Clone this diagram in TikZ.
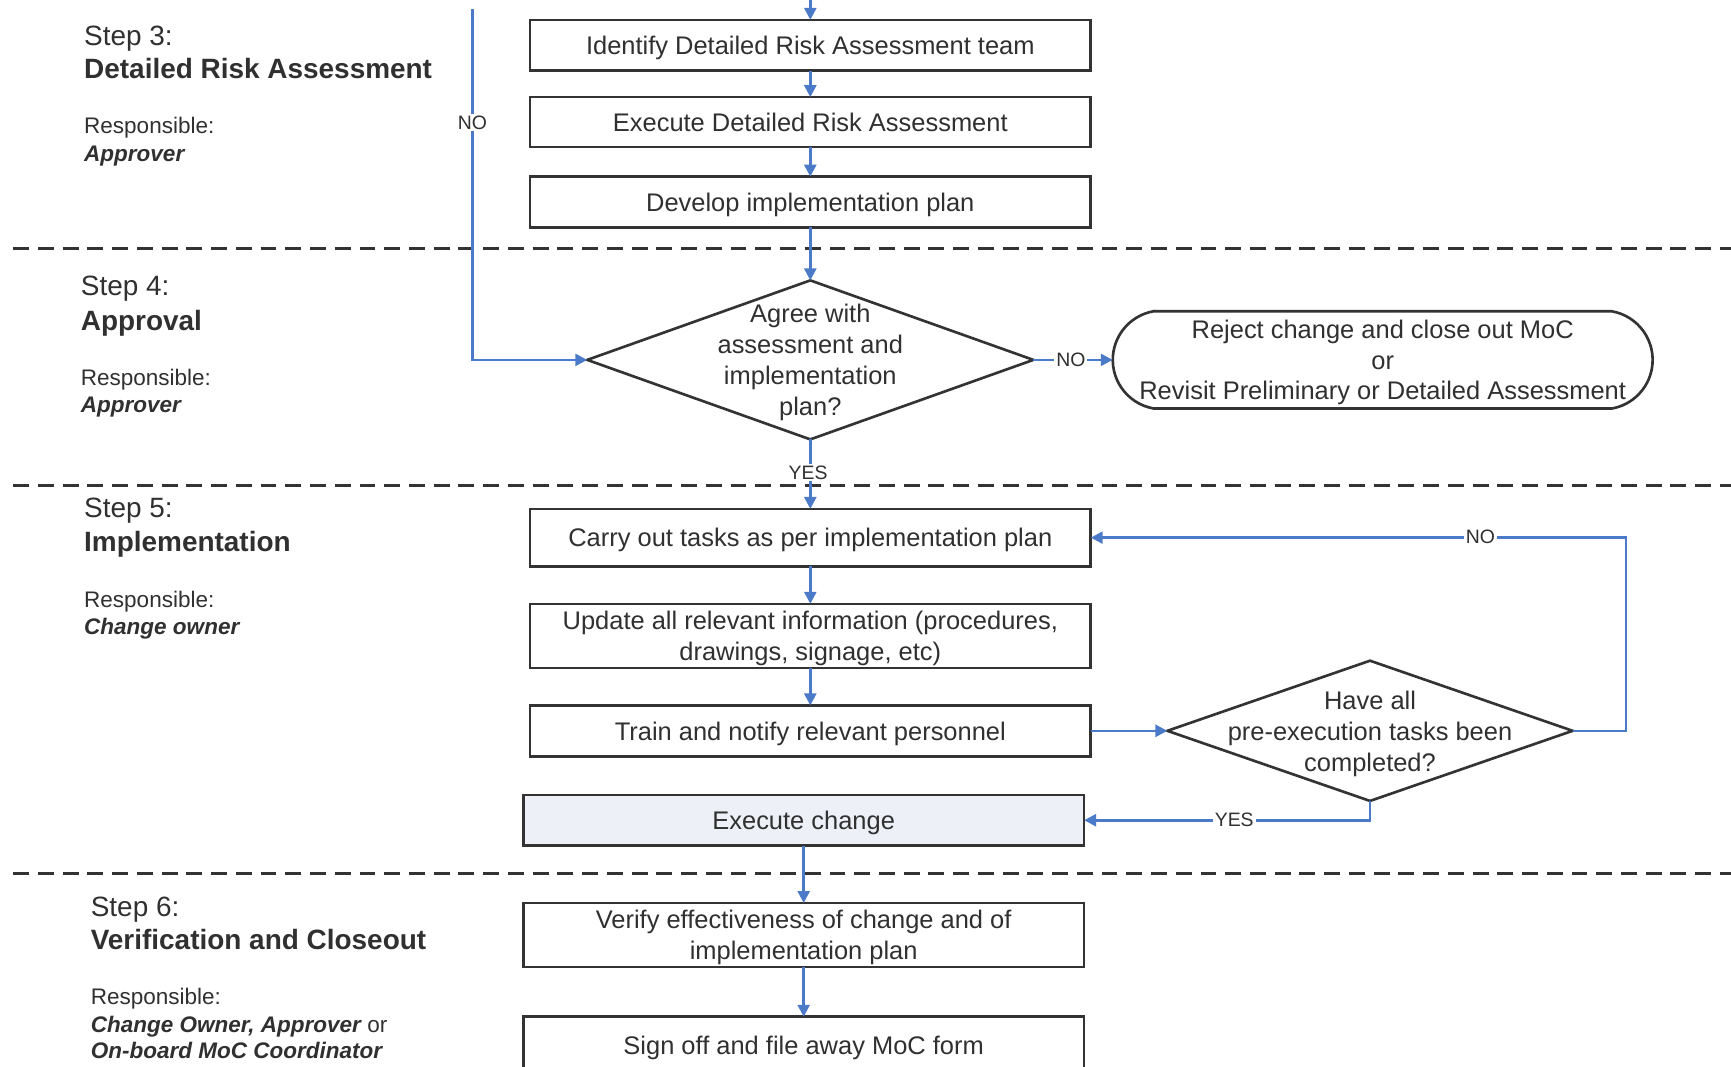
\documentclass[tikz,border=0pt]{standalone}
\usepackage{fontspec}
\setmainfont{Liberation Sans}
\usetikzlibrary{arrows.meta,shapes.geometric,calc}
\definecolor{flowblue}{HTML}{4A7AC8}
\definecolor{edge}{HTML}{333333}
\definecolor{ink}{HTML}{303030}
\definecolor{execfill}{HTML}{EDF1F7}

\begin{document}
\begin{tikzpicture}[x=0.025cm,y=-0.025cm,
  box/.style={draw=edge, line width=1.7pt, minimum width=12.7cm, inner sep=0pt, outer sep=0pt,
    align=center, text=ink, text depth=0pt, font=\fontsize{16.4}{19.9}\selectfont},
  decision/.style={diamond, draw=edge, line width=1.7pt, inner sep=0pt, outer sep=0pt},
  dtext/.style={align=center, inner sep=0pt, text=ink, text depth=0pt, font=\fontsize{16.4}{19.9}\selectfont},
  flow/.style={draw=flowblue, line width=1.7pt, -{Triangle[length=0.27cm,width=0.27cm]}},
  tag/.style={fill=white, inner sep=1.2pt, text=ink, font=\fontsize{12.5}{14}\selectfont},
  divider/.style={draw=edge, line width=1.8pt, dash pattern=on 0.36cm off 0.2cm},
  steplabel/.style={anchor=base west, inner sep=0pt, text=ink, font=\fontsize{18}{20}\selectfont},
  steptitle/.style={anchor=base west, inner sep=0pt, text=ink, font=\fontsize{18}{20}\selectfont\bfseries},
  resp/.style={anchor=base west, inner sep=0pt, text=ink, font=\fontsize{14.5}{16}\selectfont},
  respname/.style={anchor=base west, inner sep=0pt, text=ink, font=\fontsize{14.5}{16}\selectfont\bfseries\itshape}
]
\useasboundingbox (0,0) rectangle (1568,966);
\clip (0,0) rectangle (1568,966);

% section dividers
\draw[divider] (12,225) -- (1568,225);
\draw[divider] (12,440) -- (1568,440);
\draw[divider] (12,791) -- (1568,791);

% left column: step descriptions
\node[steplabel] (s3a) at (76,41) {Step 3:};
\node[steptitle] (s3b) at (76,71) {Detailed Risk Assessment};
\node[resp] (s3c) at (76,121) {Responsible:};
\node[respname] (s3d) at (76,146) {Approver};

\node[steplabel] (s4a) at (73,268) {Step 4:};
\node[steptitle] (s4b) at (73,299) {Approval};
\node[resp] (s4c) at (73,349) {Responsible:};
\node[respname] (s4d) at (73,374) {Approver};

\node[steplabel] (s5a) at (76,469) {Step 5:};
\node[steptitle] (s5b) at (76,500) {Implementation};
\node[resp] (s5c) at (76,550) {Responsible:};
\node[respname] (s5d) at (76,575) {Change owner};

\node[steplabel] (s6a) at (82,830) {Step 6:};
\node[steptitle] (s6b) at (82,860) {Verification and Closeout};
\node[resp] (s6c) at (82,910) {Responsible:};
\node[resp] (s6d) at (82,935) {\bfseries\itshape Change Owner, Approver\mdseries\upshape{} or};
\node[respname] (s6e) at (82,959) {On-board MoC Coordinator};

% process boxes
\node[box, minimum height=1.15cm] (b1) at (734,41) {Identify Detailed Risk Assessment team};
\node[box, minimum height=1.125cm] (b2) at (734,110.5) {Execute Detailed Risk Assessment};
\node[box, minimum height=1.15cm] (b3) at (734,183) {Develop implementation plan};

\node[decision, minimum width=10.1cm, minimum height=3.6cm] (d1) at (734,326) {};
\node[dtext] (d1t) at (734,326) {Agree with\\assessment and\\implementation\\plan?};

\node[minimum width=12.225cm, minimum height=2.2cm, inner sep=0pt, outer sep=0pt,
  align=center, text=ink, text depth=0pt, font=\fontsize{16.4}{19.5}\selectfont] (reject) at (1252.5,326)
  {Reject change and close out MoC\\or\\Revisit Preliminary or Detailed Assessment};
\draw[draw=edge, line width=1.7pt]
  ($(reject.north west)+(37,0)$) -- ($(reject.north east)+(-37,0)$)
  arc[start angle=80, end angle=-80, radius=1.1175cm]
  -- ($(reject.south west)+(37,0)$)
  arc[start angle=260, end angle=100, radius=1.1175cm] -- cycle;

\node[box, minimum height=1.3cm] (b4) at (734,487) {Carry out tasks as per implementation plan};
\node[box, minimum height=1.45cm] (b5) at (734,576) {Update all relevant information (procedures,\\drawings, signage, etc)};
\node[box, minimum height=1.15cm] (b6) at (734,662) {Train and notify relevant personnel};

\node[decision, minimum width=9.175cm, minimum height=3.175cm] (d2) at (1241,662) {};
\node[dtext] (d2t) at (1241,662.5) {Have all\\pre-execution tasks been\\completed?};

\node[box, fill=execfill, minimum height=1.15cm] (b7) at (728,743) {Execute change};
\node[box, minimum height=1.45cm] (b8) at (728,847) {Verify effectiveness of change and of\\implementation plan};
\node[box, minimum height=1.3cm] (b9) at (728,947) {Sign off and file away MoC form};

% connectors
\coordinate (topin) at (734,-2);
\coordinate (notop) at (428,8);
\coordinate (loopc) at (1473,662);

\draw[flow] (topin) -- (b1.north);
\draw[flow] (b1) -- (b2);
\draw[flow] (b2) -- (b3);
\draw[flow] (b3) -- (d1.north);
\draw[flow] (notop) |- (d1.west);
\draw[flow] (d1.east) -- (reject.west);
\draw[flow] (d1.south) -- (b4.north);
\draw[flow] (b4) -- (b5);
\draw[flow] (b5) -- (b6);
\draw[flow] (b6.east) -- (d2.west);
\draw[flow] (d2.east) -- (loopc) |- (b4.east);
\draw[flow] (d2.south) |- (b7.east);
\draw[flow] (b7) -- (b8);
\draw[flow] (b8) -- (b9);

% connector labels
\node[tag] (no1) at (428,111) {NO};
\node[tag] (no2) at (970,326) {NO};
\node[tag] (yes1) at (732,428) {YES};
\node[tag] (no3) at (1341,486) {NO};
\node[tag] (yes2) at (1118,743) {YES};
\end{tikzpicture}
\end{document}
